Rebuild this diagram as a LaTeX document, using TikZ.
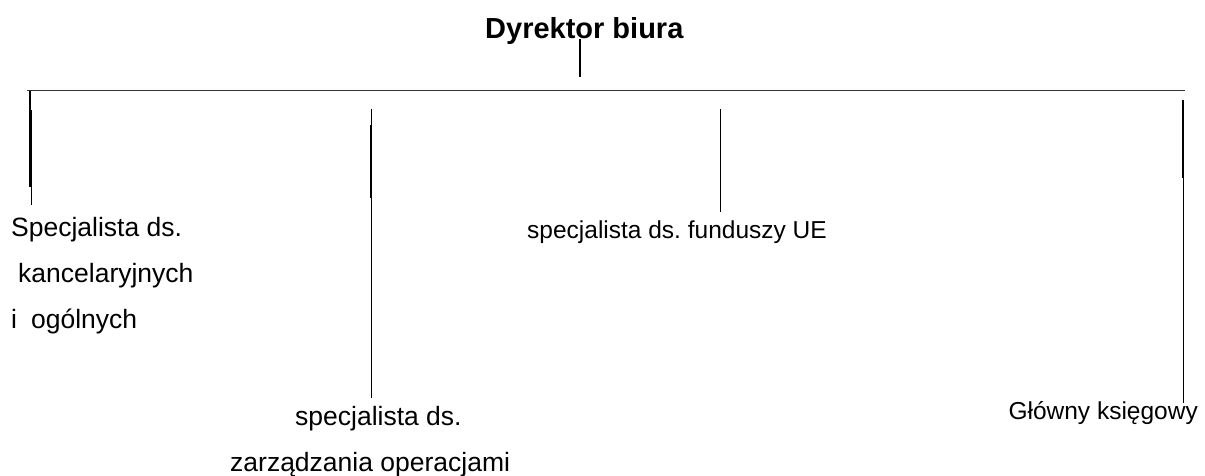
\documentclass[tikz,border=0pt]{standalone}
\usepackage{fontspec}
\setmainfont{Liberation Sans}
\frenchspacing
\begin{document}
\begin{tikzpicture}[x=1pt,y=-1pt,
  lbl/.style={anchor=base west,inner sep=0pt,font=\fontsize{26.5}{30}\selectfont},
  lbs/.style={anchor=base west,inner sep=0pt,font=\fontsize{24.5}{30}\selectfont},
  ttl/.style={anchor=base west,inner sep=0pt,font=\fontsize{29}{34}\selectfont\bfseries},
  rule/.style={draw=black!80,line width=1.8pt},
  conn/.style={draw=black,line width=1.3pt},
  connb/.style={draw=black,line width=1.9pt}]
\useasboundingbox (0,0) rectangle (1205,475);
\fill[white] (0,0) rectangle (1205,475);
% titles and labels
\node[ttl] (dyr) at (485,38) {Dyrektor biura};
\node[lbl] (s1a) at (11,236) {Specjalista ds.};
\node[lbl] (s1b) at (18,282) {kancelaryjnych};
\node[lbl] (s1c) at (11,328) {i\hspace{14pt}ogólnych};
\node[lbl] (s2a) at (295,425) {specjalista ds.};
\node[lbl] (s2b) at (230,471) {zarządzania operacjami};
\node[lbs] (s3) at (527,238) {specjalista ds. funduszy UE};
\node[lbs,anchor=base east] (s4) at (1198,419) {Główny księgowy};
% coordinates
\coordinate (hl) at (27,90.5);
\coordinate (hr) at (1185,90.5);
\coordinate (t1) at (580,39);
\coordinate (t2) at (580,77);
\coordinate (a1) at (30,90.5);
\coordinate (a2) at (30,187);
\coordinate (a3) at (31.3,110);
\coordinate (a4) at (31.3,205);
\coordinate (b1) at (371.7,109);
\coordinate (b2) at (371.7,398);
\coordinate (b3) at (370.6,125);
\coordinate (b4) at (370.6,198);
\coordinate (c1) at (720.5,109);
\coordinate (c2) at (720.5,212);
\coordinate (d1) at (1183.5,100);
\coordinate (d2) at (1183.5,403);
\coordinate (d3) at (1183,100);
\coordinate (d4) at (1183,178);
% lines
\draw[rule] (hl) -- (hr);
\draw[conn] (t1) -- (t2);
\draw[conn] (a1) -- (a2);
\draw[conn] (a3) -- (a4);
\draw[conn] (b1) -- (b2);
\draw[connb] (b3) -- (b4);
\draw[connb] (c1) -- (c2);
\draw[conn] (d1) -- (d2);
\draw[connb] (d3) -- (d4);
\end{tikzpicture}
\end{document}
